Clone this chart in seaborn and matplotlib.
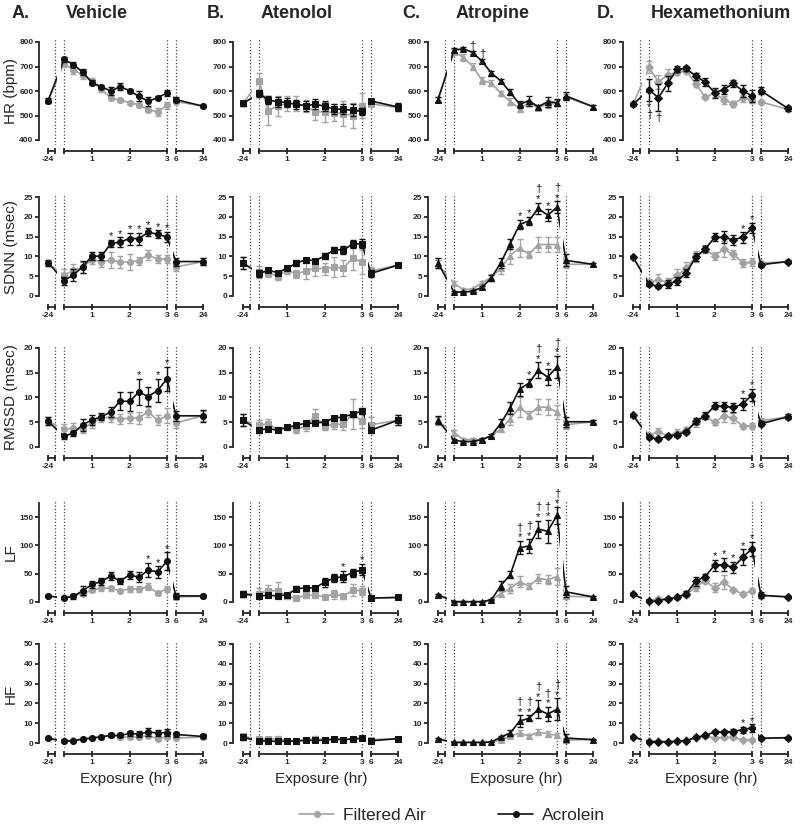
import numpy as np
import pandas as pd
import matplotlib
matplotlib.use("Agg")
import matplotlib.pyplot as plt
import seaborn as sns

sns.set_style("ticks")
plt.rcParams["font.family"] = ["Liberation Sans", "DejaVu Sans"]

# sampling times (hr): baseline, exposure, recovery
hours = [-24, 0.25, 0.5, 0.75, 1.0, 1.25, 1.5, 1.75, 2.0, 2.25, 2.5, 2.75, 3.0, 6, 24]

drugs = ["Vehicle", "Atenolol", "Atropine", "Hexamethonium"]
letters = ["A.", "B.", "C.", "D."]
drug_markers = ["o", "s", "^", "D"]
metrics = ["HR (bpm)", "SDNN (msec)", "RMSSD (msec)", "LF", "HF"]
y_ranges = [(400, 800), (0, 25), (0, 20), (0, 175), (0, 50)]
y_ticks = [[400, 500, 600, 700, 800], [0, 5, 10, 15, 20, 25], [0, 5, 10, 15, 20],
           [0, 50, 100, 150], [0, 10, 20, 30, 40, 50]]

# ---- Vehicle ----
vehicle_hr_air = [560, 712, 686, 665, 640, 607, 572, 562, 553, 543, 524, 515, 541, 557, 538]
vehicle_hr_air_se = [10, 12, 15, 15, 12, 10, 10, 8, 5, 10, 10, 15, 15, 8, 5]
vehicle_hr_acr = [560, 729, 708, 677, 634, 617, 600, 618, 601, 578, 558, 573, 592, 565, 538]
vehicle_hr_acr_se = [10, 10, 12, 12, 10, 6, 15, 15, 8, 20, 18, 5, 12, 10, 5]

vehicle_sdnn_air = [8.3, 5.2, 6.5, 7.2, 9.2, 8.7, 9.0, 8.6, 8.6, 8.9, 10.4, 9.3, 9.3, 7.3, 8.7]
vehicle_sdnn_air_se = [0.8, 1.5, 1.5, 1.5, 1.0, 1.5, 2.0, 1.5, 2.0, 1.0, 1.2, 1.0, 1.0, 1.0, 0.8]
vehicle_sdnn_acr = [8.4, 3.9, 5.3, 7.4, 10.1, 10.0, 13.3, 13.6, 14.5, 14.5, 16.1, 15.6, 14.9, 8.7, 8.7]
vehicle_sdnn_acr_se = [0.8, 1.0, 1.5, 1.5, 1.0, 1.0, 0.8, 1.2, 1.5, 1.5, 1.0, 1.0, 1.3, 1.0, 0.8]

vehicle_rmssd_air = [5.2, 3.6, 3.8, 3.7, 4.9, 5.9, 6.0, 5.7, 5.8, 5.9, 7.1, 5.4, 6.3, 4.9, 6.3]
vehicle_rmssd_air_se = [0.8, 1.0, 1.0, 0.8, 1.0, 0.8, 1.0, 1.0, 1.0, 1.2, 1.0, 1.0, 1.5, 1.0, 1.0]
vehicle_rmssd_acr = [5.2, 2.2, 2.8, 4.5, 5.5, 6.1, 7.1, 9.3, 9.2, 11.1, 10.2, 11.4, 13.8, 6.3, 6.3]
vehicle_rmssd_acr_se = [0.8, 0.5, 0.5, 1.2, 1.0, 0.7, 1.0, 1.8, 2.0, 2.6, 2.0, 2.3, 2.4, 1.0, 1.2]

vehicle_lf_air = [10.6, 8, 11, 15, 21, 25, 24, 20, 23, 23, 27, 16, 23, 9, 10]
vehicle_lf_air_se = [2, 2, 3, 4, 4, 5, 5, 3, 5, 6, 6, 3, 6, 3, 2]
vehicle_lf_acr = [10.6, 7, 10, 20, 31, 36.5, 46, 37, 48, 43.5, 56.5, 53, 72, 11, 10.6]
vehicle_lf_acr_se = [2, 2, 4, 8, 7, 6, 7, 5, 7, 9, 13, 10, 16, 5, 2]

vehicle_hf_air = [2.3, 1.2, 1.5, 2.0, 2.3, 3.0, 3.8, 3.0, 3.0, 3.0, 3.7, 2.2, 3.2, 2.5, 3.0]
vehicle_hf_air_se = [0.3, 0.5, 0.5, 0.5, 0.5, 0.5, 0.8, 0.8, 0.8, 0.8, 0.8, 0.5, 1.0, 0.8, 0.8]
vehicle_hf_acr = [2.3, 1.0, 1.0, 2.0, 2.5, 3.2, 3.8, 3.8, 4.8, 4.5, 5.6, 5.0, 5.3, 4.3, 3.3]
vehicle_hf_acr_se = [0.3, 0.5, 0.5, 0.5, 0.5, 0.5, 1.0, 1.0, 1.5, 1.5, 2.0, 1.5, 2.0, 1.5, 1.0]

# ---- Atenolol ----
atenolol_hr_air = [549, 640, 520, 540, 548, 548, 540, 515, 515, 512, 508, 500, 540, 548, 532]
atenolol_hr_air_se = [12, 35, 60, 40, 30, 30, 25, 35, 40, 35, 50, 50, 50, 10, 15]
atenolol_hr_acr = [549, 590, 563, 556, 553, 545, 540, 546, 538, 527, 525, 521, 517, 559, 535]
atenolol_hr_acr_se = [10, 15, 15, 20, 20, 20, 20, 20, 20, 20, 20, 25, 15, 10, 15]

atenolol_sdnn_air = [8.3, 6.0, 5.9, 5.0, 6.5, 5.6, 6.3, 7.0, 6.9, 7.3, 7.0, 9.6, 8.5, 6.3, 7.8]
atenolol_sdnn_air_se = [1.5, 1.5, 1.0, 1.0, 1.0, 1.0, 2.0, 2.0, 1.5, 2.5, 2.0, 3.0, 3.0, 1.0, 0.5]
atenolol_sdnn_acr = [8.3, 5.7, 6.5, 5.9, 7.0, 8.3, 9.2, 8.9, 10.1, 11.7, 11.6, 13.1, 13.2, 5.7, 7.8]
atenolol_sdnn_acr_se = [1.5, 0.8, 0.5, 0.5, 0.5, 0.8, 0.5, 0.5, 0.8, 0.8, 1.0, 1.0, 1.2, 0.8, 0.5]

atenolol_rmssd_air = [5.4, 4.4, 4.7, 3.5, 4.0, 3.6, 4.2, 6.2, 4.2, 4.6, 4.6, 6.7, 5.3, 4.5, 5.4]
atenolol_rmssd_air_se = [1.2, 1.0, 1.0, 0.5, 0.5, 0.8, 1.0, 1.5, 0.8, 1.0, 1.2, 3.0, 1.5, 1.5, 1.0]
atenolol_rmssd_acr = [5.4, 3.4, 3.7, 3.4, 4.0, 4.4, 4.8, 4.8, 5.1, 5.8, 6.1, 6.6, 7.3, 3.4, 5.4]
atenolol_rmssd_acr_se = [1.2, 0.5, 0.3, 0.3, 0.4, 0.4, 0.4, 0.3, 0.4, 0.4, 0.4, 0.5, 0.6, 0.5, 1.0]

atenolol_lf_air = [14, 15, 20, 20, 10, 7, 12, 12, 9, 14, 10, 21, 20, 7, 8]
atenolol_lf_air_se = [5, 10, 10, 15, 5, 3, 5, 5, 3, 8, 5, 10, 8, 2, 2]
atenolol_lf_acr = [14, 10.6, 12, 10.6, 13, 23.5, 25, 25, 35, 42, 45, 52, 57, 7, 8]
atenolol_lf_acr_se = [5, 4, 3, 3, 3, 4, 4, 4, 8, 7, 10, 7, 10, 2, 2]

atenolol_hf_air = [3.3, 2.0, 2.0, 2.2, 1.2, 1.0, 1.5, 2.2, 1.6, 2.0, 1.7, 2.0, 2.3, 1.7, 2.2]
atenolol_hf_air_se = [1.0, 1.0, 1.0, 1.2, 0.5, 0.4, 0.5, 1.2, 0.5, 1.0, 0.5, 0.5, 0.6, 0.8, 0.4]
atenolol_hf_acr = [2.8, 1.0, 1.0, 0.8, 0.9, 1.0, 1.4, 1.3, 1.4, 1.9, 1.7, 2.0, 2.4, 1.1, 2.2]
atenolol_hf_acr_se = [1.2, 0.4, 0.3, 0.3, 0.3, 0.3, 0.4, 0.4, 0.4, 0.5, 0.4, 0.4, 0.5, 0.4, 0.4]

# ---- Atropine ----
atropine_hr_air = [565, 758, 738, 700, 643, 632, 590, 557, 528, 550, 532, 547, 550, 575, 536]
atropine_hr_air_se = [10, 12, 15, 15, 15, 12, 10, 15, 15, 12, 8, 15, 12, 12, 8]
atropine_hr_acr = [565, 766, 773, 757, 721, 673, 641, 595, 546, 560, 536, 556, 552, 580, 536]
atropine_hr_acr_se = [10, 8, 5, 5, 8, 10, 10, 12, 15, 20, 8, 20, 15, 15, 8]

atropine_sdnn_air = [8.0, 3.2, 1.6, 1.8, 3.4, 4.7, 7.0, 10.2, 12.2, 10.5, 13.0, 13.0, 13.0, 8.0, 8.0]
atropine_sdnn_air_se = [1.0, 0.5, 0.3, 0.3, 0.5, 0.8, 1.5, 2.0, 2.3, 0.8, 2.0, 2.0, 2.0, 1.0, 0.3]
atropine_sdnn_acr = [8.3, 1.0, 1.0, 1.2, 2.2, 4.6, 8.4, 13.2, 18.0, 19.0, 22.1, 20.4, 22.4, 9.0, 8.0]
atropine_sdnn_acr_se = [1.2, 0.3, 0.3, 0.3, 0.4, 0.8, 1.3, 1.3, 1.2, 1.0, 1.5, 1.5, 1.5, 1.5, 0.3]

atropine_rmssd_air = [5.2, 2.9, 1.5, 1.5, 1.5, 2.3, 3.6, 5.7, 8.0, 6.5, 8.1, 8.0, 7.1, 4.5, 5.1]
atropine_rmssd_air_se = [0.8, 0.5, 0.3, 0.3, 0.3, 0.4, 0.6, 1.2, 2.0, 0.8, 1.5, 1.6, 1.4, 0.8, 0.3]
atropine_rmssd_acr = [5.4, 1.35, 1.1, 1.1, 1.5, 2.3, 4.8, 7.9, 11.7, 12.9, 15.5, 14.1, 16.2, 5.1, 5.1]
atropine_rmssd_acr_se = [0.8, 0.3, 0.2, 0.2, 0.3, 0.3, 0.8, 1.2, 1.3, 0.8, 1.6, 1.6, 2.2, 1.0, 0.3]

atropine_lf_air = [13, 0.5, 0.5, 0.5, 0.5, 3, 15, 24, 36, 28, 42, 39, 45, 10, 9]
atropine_lf_air_se = [2, 0.5, 0.5, 0.5, 0.5, 1, 4, 8, 10, 5, 8, 8, 15, 4, 2]
atropine_lf_acr = [13, 0.5, 0.5, 0.5, 0.5, 4, 29, 48, 96, 99, 129, 125, 153, 18, 9]
atropine_lf_acr_se = [2, 0.5, 0.5, 0.5, 0.5, 1, 8, 6, 12, 12, 15, 20, 15, 10, 2]

atropine_hf_air = [2.0, 0.3, 0.3, 0.3, 0.3, 0.5, 1.5, 3.5, 5.0, 3.5, 5.5, 4.7, 3.8, 1.5, 1.7]
atropine_hf_air_se = [0.3, 0.2, 0.2, 0.2, 0.2, 0.2, 0.5, 1.0, 1.5, 1.0, 1.5, 1.5, 1.5, 0.5, 0.3]
atropine_hf_acr = [2.0, 0.3, 0.3, 0.3, 0.3, 0.5, 3.0, 5.0, 11.0, 12.5, 17.0, 14.6, 17.0, 2.5, 1.7]
atropine_hf_acr_se = [0.3, 0.2, 0.2, 0.2, 0.2, 0.2, 0.5, 1.5, 3.0, 1.5, 4.5, 3.5, 5.5, 2.0, 0.3]

# ---- Hexamethonium ----
hexa_hr_air = [545, 697, 637, 665, 677, 683, 628, 575, 592, 563, 548, 570, 565, 555, 525]
hexa_hr_air_se = [5, 25, 30, 25, 10, 10, 12, 8, 15, 15, 12, 15, 15, 10, 8]
hexa_hr_acr = [545, 606, 572, 631, 689, 692, 660, 637, 593, 606, 631, 601, 580, 601, 529]
hexa_hr_acr_se = [5, 45, 55, 30, 12, 12, 15, 15, 20, 20, 15, 25, 25, 15, 10]

hexa_sdnn_air = [9.8, 3.5, 4.0, 3.5, 5.2, 7.0, 10.0, 11.8, 10.2, 11.8, 10.5, 8.4, 8.5, 8.3, 8.7]
hexa_sdnn_air_se = [0.3, 0.8, 1.5, 1.0, 1.5, 1.5, 1.3, 1.0, 1.0, 2.0, 1.2, 1.0, 1.0, 0.5, 0.3]
hexa_sdnn_acr = [9.8, 3.0, 2.4, 3.0, 3.7, 5.9, 9.8, 11.8, 14.8, 14.8, 14.2, 14.8, 17.1, 7.9, 8.7]
hexa_sdnn_acr_se = [0.3, 0.5, 0.5, 1.0, 1.0, 1.0, 1.0, 0.8, 1.0, 1.5, 1.3, 1.3, 1.3, 0.5, 0.3]

hexa_rmssd_air = [6.4, 2.4, 3.0, 2.3, 2.8, 3.4, 4.8, 6.3, 5.0, 6.3, 5.8, 4.2, 4.3, 5.3, 6.1]
hexa_rmssd_air_se = [0.3, 0.5, 0.8, 0.3, 0.8, 0.6, 0.8, 0.6, 0.5, 1.2, 1.0, 0.5, 0.6, 0.5, 0.5]
hexa_rmssd_acr = [6.4, 2.0, 1.6, 2.2, 2.5, 3.1, 5.2, 6.3, 8.3, 8.2, 8.0, 8.7, 10.5, 4.7, 6.1]
hexa_rmssd_acr_se = [0.3, 0.3, 0.3, 0.3, 0.4, 0.4, 0.6, 0.7, 0.7, 0.9, 0.9, 1.2, 1.2, 0.5, 0.5]

hexa_lf_air = [13.5, 2, 6, 5, 8, 13, 27, 37, 25, 35, 22, 14, 20, 11, 9]
hexa_lf_air_se = [2, 1.5, 3, 2, 2, 5, 8, 4, 8, 12, 3, 3, 4, 3, 2]
hexa_lf_acr = [13.5, 1, 2, 6, 8, 15, 37, 45, 65, 66, 61, 79, 94, 12, 9]
hexa_lf_acr_se = [2, 1, 1.5, 2, 2, 5, 8, 5, 10, 12, 10, 14, 12, 5, 2]

hexa_hf_air = [3.0, 0.8, 1.2, 0.7, 1.0, 1.3, 2.6, 3.5, 2.5, 2.8, 2.8, 1.7, 1.7, 2.2, 2.7]
hexa_hf_air_se = [0.3, 0.3, 0.4, 0.2, 0.3, 0.3, 0.4, 0.6, 0.5, 0.7, 0.6, 0.4, 0.4, 0.3, 0.3]
hexa_hf_acr = [3.0, 0.6, 0.6, 0.6, 0.8, 1.2, 2.8, 3.8, 5.6, 5.6, 5.8, 6.7, 7.6, 2.4, 2.7]
hexa_hf_acr_se = [0.3, 0.2, 0.2, 0.2, 0.3, 0.3, 0.5, 0.6, 0.8, 0.8, 1.2, 1.5, 1.8, 0.3, 0.3]

# significance marks (hours): * vs filtered air, † vs vehicle
vehicle_sdnn_star = [1.5, 1.75, 2.0, 2.25, 2.5, 2.75, 3.0]
vehicle_rmssd_star = [2.25, 2.75, 3.0]
vehicle_lf_star = [2.5, 2.75, 3.0]
atenolol_lf_star = [2.5, 3.0]
atropine_hr_dagger = [0.75, 1.0]
atropine_sdnn_star = [2.0, 2.25, 2.5, 2.75, 3.0]
atropine_sdnn_dagger = [2.5, 3.0]
atropine_rmssd_star = [2.25, 2.5, 2.75, 3.0]
atropine_rmssd_dagger = [2.5, 3.0]
atropine_lf_star = [2.0, 2.25, 2.5, 2.75, 3.0]
atropine_lf_dagger = [2.0, 2.25, 2.5, 2.75, 3.0]
atropine_hf_star = [2.0, 2.25, 2.5, 2.75, 3.0]
atropine_hf_dagger = [2.0, 2.25, 2.5, 2.75, 3.0]
hexa_hr_star = [0.25]
hexa_hr_dagger = [0.25, 0.5]
hexa_sdnn_star = [2.75, 3.0]
hexa_rmssd_star = [2.75, 3.0]
hexa_lf_star = [2.0, 2.25, 2.5, 2.75, 3.0]
hexa_hf_star = [2.75, 3.0]

air = [
    [vehicle_hr_air, vehicle_sdnn_air, vehicle_rmssd_air, vehicle_lf_air, vehicle_hf_air],
    [atenolol_hr_air, atenolol_sdnn_air, atenolol_rmssd_air, atenolol_lf_air, atenolol_hf_air],
    [atropine_hr_air, atropine_sdnn_air, atropine_rmssd_air, atropine_lf_air, atropine_hf_air],
    [hexa_hr_air, hexa_sdnn_air, hexa_rmssd_air, hexa_lf_air, hexa_hf_air],
]
air_se = [
    [vehicle_hr_air_se, vehicle_sdnn_air_se, vehicle_rmssd_air_se, vehicle_lf_air_se, vehicle_hf_air_se],
    [atenolol_hr_air_se, atenolol_sdnn_air_se, atenolol_rmssd_air_se, atenolol_lf_air_se, atenolol_hf_air_se],
    [atropine_hr_air_se, atropine_sdnn_air_se, atropine_rmssd_air_se, atropine_lf_air_se, atropine_hf_air_se],
    [hexa_hr_air_se, hexa_sdnn_air_se, hexa_rmssd_air_se, hexa_lf_air_se, hexa_hf_air_se],
]
acr = [
    [vehicle_hr_acr, vehicle_sdnn_acr, vehicle_rmssd_acr, vehicle_lf_acr, vehicle_hf_acr],
    [atenolol_hr_acr, atenolol_sdnn_acr, atenolol_rmssd_acr, atenolol_lf_acr, atenolol_hf_acr],
    [atropine_hr_acr, atropine_sdnn_acr, atropine_rmssd_acr, atropine_lf_acr, atropine_hf_acr],
    [hexa_hr_acr, hexa_sdnn_acr, hexa_rmssd_acr, hexa_lf_acr, hexa_hf_acr],
]
acr_se = [
    [vehicle_hr_acr_se, vehicle_sdnn_acr_se, vehicle_rmssd_acr_se, vehicle_lf_acr_se, vehicle_hf_acr_se],
    [atenolol_hr_acr_se, atenolol_sdnn_acr_se, atenolol_rmssd_acr_se, atenolol_lf_acr_se, atenolol_hf_acr_se],
    [atropine_hr_acr_se, atropine_sdnn_acr_se, atropine_rmssd_acr_se, atropine_lf_acr_se, atropine_hf_acr_se],
    [hexa_hr_acr_se, hexa_sdnn_acr_se, hexa_rmssd_acr_se, hexa_lf_acr_se, hexa_hf_acr_se],
]
# (col, row) -> (stars, daggers, marks below the point?)
sig = {
    (0, 1): (vehicle_sdnn_star, [], False),
    (0, 2): (vehicle_rmssd_star, [], False),
    (0, 3): (vehicle_lf_star, [], False),
    (1, 3): (atenolol_lf_star, [], False),
    (2, 0): ([], atropine_hr_dagger, False),
    (2, 1): (atropine_sdnn_star, atropine_sdnn_dagger, False),
    (2, 2): (atropine_rmssd_star, atropine_rmssd_dagger, False),
    (2, 3): (atropine_lf_star, atropine_lf_dagger, False),
    (2, 4): (atropine_hf_star, atropine_hf_dagger, False),
    (3, 0): (hexa_hr_star, hexa_hr_dagger, True),
    (3, 1): (hexa_sdnn_star, [], False),
    (3, 2): (hexa_rmssd_star, [], False),
    (3, 3): (hexa_lf_star, [], False),
    (3, 4): (hexa_hf_star, [], False),
}

AIR_COLOR = "#a3a3a3"
ACR_COLOR = "#111111"

# layout in pixels (figure is 800 x 832)
W, H = 800, 832
row_top = [42, 197, 348, 503, 644]
row_bot = [140, 296, 447, 602, 743]
col_base = [48, 243, 438, 633]   # pixel position of the -24 h point
PX_PER_U = 37.45
U_NEG24 = -0.177


def to_u(h):
    # broken time axis -> one continuous coordinate
    if h < 0:
        return U_NEG24
    if h <= 3:
        return h
    return 3.24 + (h - 6) / 18 * 0.72


segments = [
    dict(xlim=(-0.27, 0.06), bounds=(to_u(-24), 0.01), ticks=[to_u(-24), 0.01], labels=["-24", ""], dots=[0.01]),
    dict(xlim=(0.17, 3.08), bounds=(0.25, 3.0), ticks=[0.25, 1, 2, 3], labels=["", "1", "2", "3"], dots=[0.25, 3.0]),
    dict(xlim=(3.17, 4.04), bounds=(to_u(6), to_u(24)), ticks=[to_u(6), to_u(24)], labels=["6", "24"], dots=[to_u(6)]),
]

u = [to_u(h) for h in hours]

fig = plt.figure(figsize=(W / 100, H / 100), dpi=100)
legend_handles = None

for c in range(4):
    mk = drug_markers[c]
    ms = 3.6 if mk == "D" else 4.3
    for r in range(5):
        ylo, yhi = y_ranges[r]
        h_px = row_bot[r] - row_top[r]
        per_px = (yhi - ylo) / h_px
        pad_lo, pad_hi = 5, 3
        for s, seg in enumerate(segments):
            x0, x1 = seg["xlim"]
            left_px = col_base[c] + (x0 - U_NEG24) * PX_PER_U
            width_px = (x1 - x0) * PX_PER_U
            rect = [left_px / W, 1 - (row_bot[r] + pad_lo) / H,
                    width_px / W, (h_px + pad_lo + pad_hi) / H]
            ax = fig.add_axes(rect)
            ax.patch.set_alpha(0)

            for means, ses, col, lab in [(air[c][r], air_se[c][r], AIR_COLOR, "Filtered Air"),
                                         (acr[c][r], acr_se[c][r], ACR_COLOR, "Acrolein")]:
                ax.errorbar(u, means, yerr=ses, fmt="none", ecolor=col, elinewidth=1.0,
                            capsize=2.2, capthick=1.0)
                sns.lineplot(x=u, y=means, ax=ax, color=col, marker=mk, markersize=ms,
                             markeredgecolor=col, linewidth=1.2, estimator=None, sort=False,
                             label=lab)
            if ax.get_legend() is not None:
                if c == 0 and r == 0 and s == 1:
                    legend_handles = ax.get_legend_handles_labels()
                ax.get_legend().remove()

            for d in seg["dots"]:
                ax.axvline(d, color="#444444", linestyle=(0, (1, 1.6)), linewidth=0.9, zorder=0)

            ax.set_xlim(x0, x1)
            ax.set_ylim(ylo - pad_lo * per_px, yhi + pad_hi * per_px)
            sns.despine(ax=ax)
            ax.spines["bottom"].set_position(("outward", 4.5))
            ax.spines["bottom"].set_bounds(*seg["bounds"])
            ax.spines["bottom"].set_linewidth(1.3)
            ax.set_xticks(seg["ticks"])
            ax.set_xticklabels(seg["labels"])
            ax.tick_params(axis="x", direction="inout", length=5, width=1.3, pad=1,
                           labelsize=6)
            for t in ax.get_xticklabels():
                t.set_fontweight("bold")
            if s == 0:
                ax.spines["left"].set_position(("outward", 4 if c == 0 else 5))
                ax.spines["left"].set_bounds(ylo, yhi)
                ax.spines["left"].set_linewidth(1.3)
                ax.set_yticks(y_ticks[r])
                ax.tick_params(axis="y", length=3, width=1.3, pad=1, labelsize=6)
                for t in ax.get_yticklabels():
                    t.set_fontweight("bold")
            else:
                ax.spines["left"].set_visible(False)
                ax.tick_params(axis="y", left=False, labelleft=False)
            ax.set_xlabel("")
            ax.set_ylabel("")

            if s == 1 and (c, r) in sig:
                stars, daggers, below = sig[(c, r)]
                means, ses = acr[c][r], acr_se[c][r]
                for i, h in enumerate(hours):
                    has_star = h in stars
                    has_dag = h in daggers
                    if not (has_star or has_dag):
                        continue
                    if below:
                        yv = means[i] - ses[i]
                        if has_star:
                            ax.annotate("*", (u[i], yv), xytext=(0, -1), textcoords="offset points",
                                        ha="center", va="top", fontsize=8, color=ACR_COLOR)
                        if has_dag:
                            off = -7 if has_star else -1
                            ax.annotate("\u2020", (u[i], yv), xytext=(0, off), textcoords="offset points",
                                        ha="center", va="top", fontsize=8, color=ACR_COLOR)
                    else:
                        yv = means[i] + ses[i]
                        if has_star:
                            ax.annotate("*", (u[i], yv), xytext=(0, -1), textcoords="offset points",
                                        ha="center", va="bottom", fontsize=8, color=ACR_COLOR)
                        if has_dag:
                            off = 6 if has_star else 0
                            ax.annotate("\u2020", (u[i], yv), xytext=(0, off), textcoords="offset points",
                                        ha="center", va="bottom", fontsize=8, color=ACR_COLOR)

    fig.text((col_base[c] - 36) / W, 1 - 14 / H, letters[c], fontsize=13, fontweight="bold",
             ha="left", va="center")
    fig.text((col_base[c] + 18) / W, 1 - 14 / H, drugs[c], fontsize=13, fontweight="bold",
             ha="left", va="center")
    fig.text((col_base[c] + 78) / W, 1 - 779 / H, "Exposure (hr)", fontsize=11,
             ha="center", va="center")

for r in range(5):
    fig.text(11 / W, 1 - (row_top[r] + row_bot[r]) / 2 / H, metrics[r], rotation=90,
             fontsize=11, ha="center", va="center")

handles, labels = legend_handles
fig.legend(handles, labels, loc="center", bbox_to_anchor=(452 / W, 1 - 815 / H), ncol=2,
           frameon=False, fontsize=12.5, handlelength=2.0, handletextpad=0.5,
           columnspacing=4.2)

fig.savefig("out.png", dpi=100)
